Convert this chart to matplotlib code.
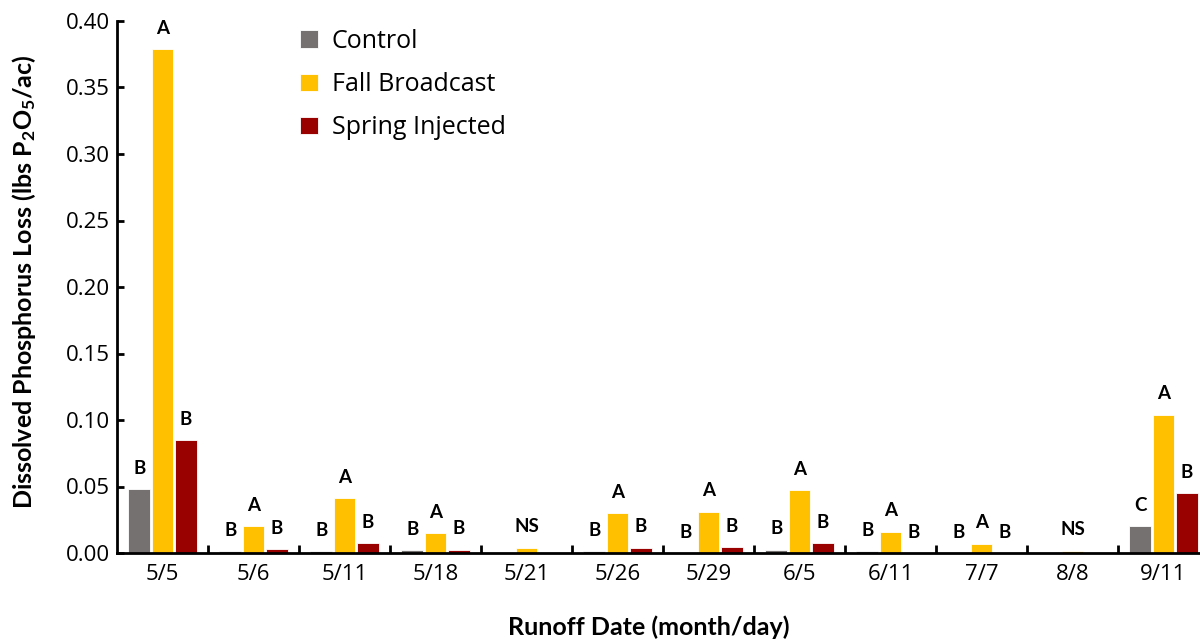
import numpy as np
import matplotlib
matplotlib.use("Agg")
import matplotlib.pyplot as plt

# values
dates = ['5/5', '5/6', '5/11', '5/18', '5/21', '5/26', '5/29', '6/5', '6/11', '7/7', '8/8', '9/11']
control = [0.048, 0.0012, 0.0012, 0.002, 0.0, 0.0012, 0.0, 0.0025, 0.0012, 0.0, 0.0, 0.020]
fall = [0.379, 0.020, 0.041, 0.015, 0.004, 0.030, 0.031, 0.047, 0.016, 0.007, 0.0017, 0.104]
spring = [0.085, 0.003, 0.0075, 0.0025, 0.0, 0.004, 0.0045, 0.0075, 0.0, 0.0, 0.0, 0.045]

letters_control = ['B', 'B', 'B', 'B', '', 'B', 'B', 'B', 'B', 'B', '', 'C']
letters_fall = ['A', 'A', 'A', 'A', 'NS', 'A', 'A', 'A', 'A', 'A', 'NS', 'A']
letters_spring = ['B', 'B', 'B', 'B', '', 'B', 'B', 'B', 'B', 'B', '', 'B']

names = ['Control', 'Fall Broadcast', 'Spring Injected']
colors = ['#767171', '#FFC000', '#990000']

plt.rcParams['mathtext.fontset'] = 'custom'
plt.rcParams['mathtext.rm'] = 'Lato:bold'
plt.rcParams['mathtext.it'] = 'Lato:bold'
plt.rcParams['mathtext.bf'] = 'Lato:bold'

fig = plt.figure(figsize=(12, 6.4), dpi=100)
ax = fig.add_axes([117 / 1200, 1 - 553 / 640, 1092 / 1200, 532 / 640])

x = np.arange(len(dates))
w = 0.24
off = 0.255
series = [(control, letters_control), (fall, letters_fall), (spring, letters_spring)]
for k, (vals, labs) in enumerate(series):
    pos = x + (k - 1) * off
    ax.bar(pos, vals, width=w, color=colors[k], label=names[k],
           edgecolor='white', linewidth=0.6)
    for xi, v, t in zip(pos, vals, labs):
        if t:
            ax.annotate(t, (xi, v), xytext=(0, 15), textcoords='offset points',
                        ha='center', va='center', fontsize=13.5,
                        fontfamily='Lato', fontweight='bold')

ax.set_xlim(-0.5, len(dates) - 0.5)
ax.set_ylim(0, 0.40)
ax.set_yticks(np.arange(0, 0.401, 0.05))
ax.set_yticklabels(['%.2f' % v for v in np.arange(0, 0.401, 0.05)],
                   fontsize=16, fontfamily='Open Sans')

# boundary ticks as major, labels on minor at centers
ax.set_xticks(np.arange(0.5, len(dates) - 0.5, 1))
ax.set_xticklabels([])
ax.set_xticks(x, minor=True)
ax.set_xticklabels(dates, minor=True, fontsize=16, fontfamily='Open Sans')
ax.tick_params(axis='x', which='minor', length=0, pad=8)
ax.tick_params(axis='x', which='major', direction='in', length=6, width=2)
ax.tick_params(axis='y', direction='in', length=5, width=2, pad=5)

for s in ['top', 'right']:
    ax.spines[s].set_visible(False)
for s in ['left', 'bottom']:
    ax.spines[s].set_linewidth(2)

ax.set_ylabel('Dissolved Phosphorus Loss (lbs P$_2$O$_5$/ac)', fontsize=18,
              fontfamily='Lato', fontweight='bold')
ax.set_xlabel('Runoff Date (month/day)', fontsize=18, fontfamily='Lato',
              fontweight='bold')
ax.yaxis.set_label_coords(-0.072, 0.51)
ax.xaxis.set_label_coords(0.487, -0.118)

leg = ax.legend(loc='upper left', bbox_to_anchor=(0.168, 0.985), frameon=False,
                prop={'family': 'Open Sans', 'size': 18}, handlelength=0.7,
                handleheight=0.7, handletextpad=0.55, labelspacing=0.73,
                borderpad=0, borderaxespad=0)

fig.savefig('out.png', dpi=100)
